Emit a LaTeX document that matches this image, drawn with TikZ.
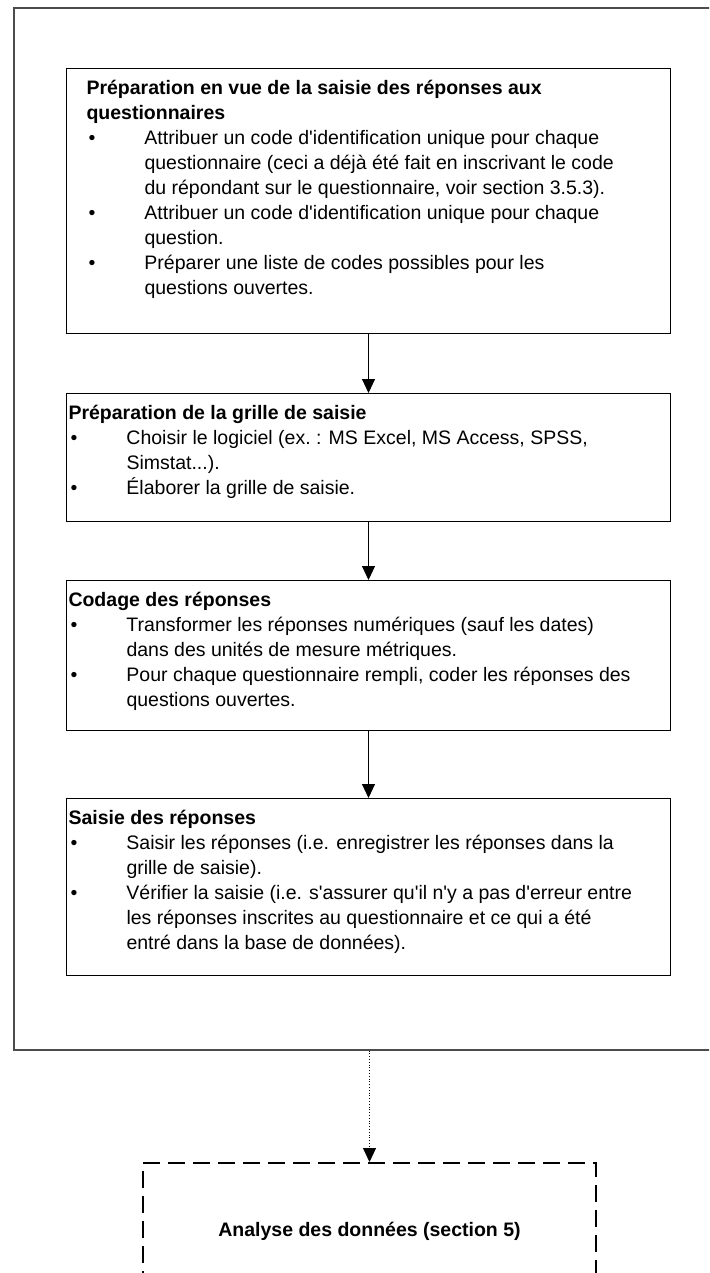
\documentclass[tikz,border=0pt]{standalone}
\usepackage{fontspec}
\setmainfont{Liberation Sans}
\usetikzlibrary{positioning,arrows.meta}

\newlength{\retrait}
\setlength{\retrait}{29pt}
\newlength{\largeur}
\setlength{\largeur}{302pt}
\newcommand{\apos}{\textquotesingle}
\newcommand{\puce}[1]{\par\hangindent=\retrait\hangafter=1\noindent
  \makebox[\retrait][l]{\hspace{1pt}\textbullet}#1}
\newcommand{\etapetexte}[3][1pt]{\parbox[t][#2][t]{\largeur}{\raggedright
  \leftskip=#1\rule{0pt}{13pt}#3}}

\tikzset{
  texte/.style={font=\fontsize{9.75}{12.5}\selectfont},
  etape/.style={texte, draw, line width=0.5pt, inner sep=0pt},
  cadre/.style={draw=black!70, line width=0.8pt, inner sep=0pt},
  analyse/.style={texte, draw, line width=1pt, dash pattern=on 8.5pt off 4pt,
    inner sep=0pt, font=\fontsize{9.75}{12.5}\selectfont\bfseries},
  fleche/.style={line width=0.5pt, -{Triangle[length=7pt,width=6.5pt]}},
  pointille/.style={line width=0.4pt, densely dotted,
    -{Triangle[length=7pt,width=6.5pt]}},
}

\begin{document}
\begin{tikzpicture}[x=0.5pt, y=-0.5pt]
  \useasboundingbox (0,0) rectangle (709,1273);
  \clip (0,0) rectangle (709,1273);

  % cadre autour des etapes
  \node[cadre, anchor=north west, minimum width=358.5pt, minimum height=521pt]
    (cadre) at (13,7) {};

  % les quatre etapes
  \node[etape, anchor=north west] (prep) at (66,68) {\etapetexte[10pt]{132.5pt}{%
    \textbf{Préparation en vue de la saisie des réponses aux\newline questionnaires}
    \puce{Attribuer un code d\apos identification unique pour chaque\newline
      questionnaire (ceci a déjà été fait en inscrivant le code\newline
      du répondant sur le questionnaire, voir section 3.5.3).}
    \puce{Attribuer un code d\apos identification unique pour chaque\newline question.}
    \puce{Préparer une liste de codes possibles pour les\newline questions ouvertes.}}};
  \node[etape, below=29.5pt of prep] (grille) {\etapetexte{64pt}{%
    \textbf{Préparation de la grille de saisie}
    \puce{Choisir le logiciel (ex.~: MS Excel, MS Access, SPSS,\newline Simstat...).}
    \puce{Élaborer la grille de saisie.}}};
  \node[etape, below=29pt of grille] (codage) {\etapetexte{75pt}{%
    \textbf{Codage des réponses}
    \puce{Transformer les réponses numériques (sauf les dates)\newline
      dans des unités de mesure métriques.}
    \puce{Pour chaque questionnaire rempli, coder les réponses des\newline
      questions ouvertes.}}};
  \node[etape, below=33.5pt of codage] (saisie) {\etapetexte{88.5pt}{%
    \textbf{Saisie des réponses}
    \puce{Saisir les réponses (i.e. enregistrer les réponses dans la\newline
      grille de saisie).}
    \puce{Vérifier la saisie (i.e. s\apos assurer qu\apos il n\apos y a pas d\apos erreur entre\newline
      les réponses inscrites au questionnaire et ce qui a été\newline
      entré dans la base de données).}}};

  % suite
  \node[analyse, anchor=north west, minimum width=226.5pt, minimum height=68pt]
    (analyse) at (142,1162) {Analyse des données (section 5)};

  \draw[fleche] (prep) -- (grille);
  \draw[fleche] (grille) -- (codage);
  \draw[fleche] (codage) -- (saisie);
  \draw[pointille] (cadre.south -| analyse) -- (analyse);
\end{tikzpicture}
\end{document}
